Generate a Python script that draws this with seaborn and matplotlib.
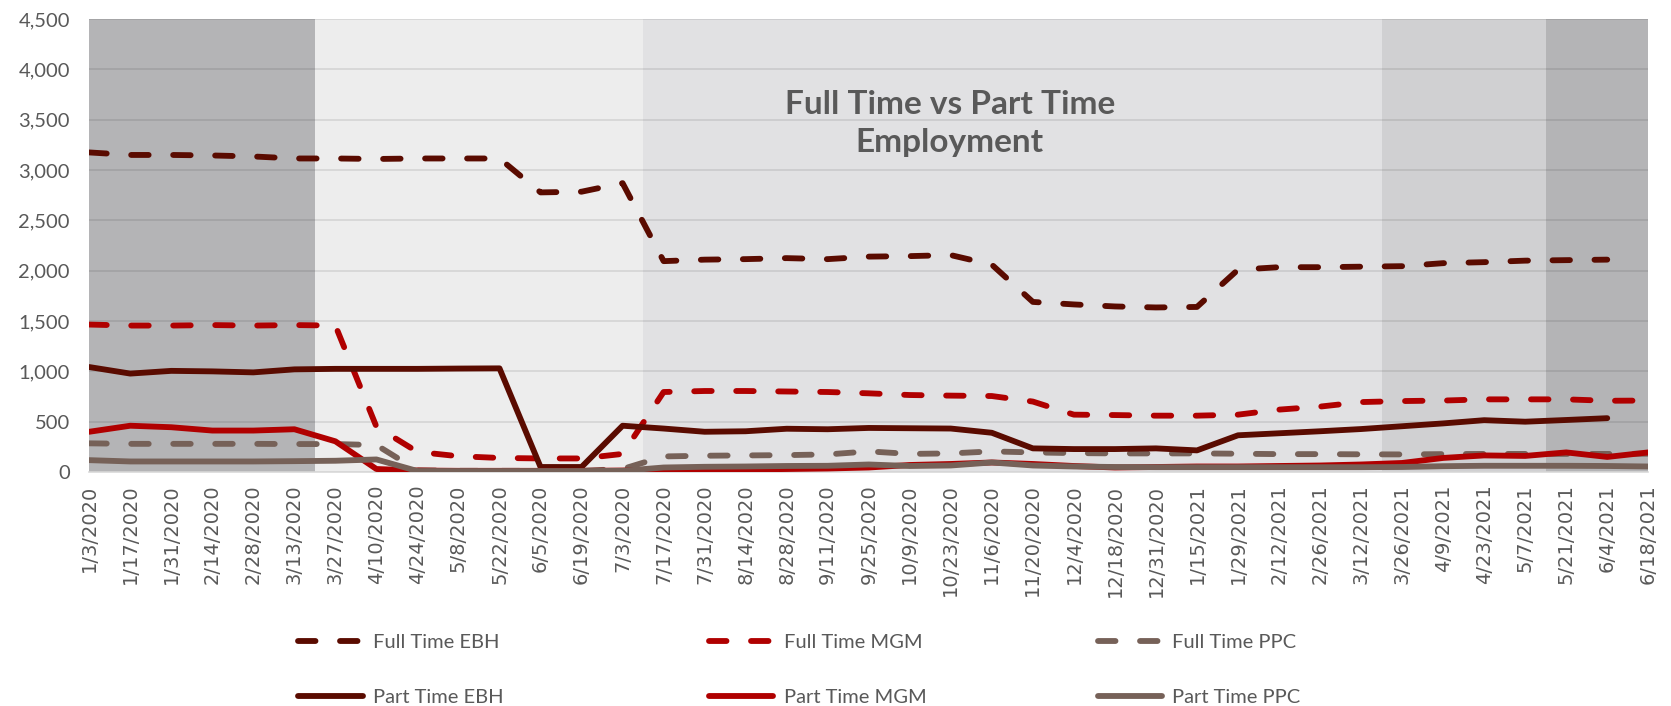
import numpy as np
import pandas as pd
import matplotlib
matplotlib.use("Agg")
import matplotlib.pyplot as plt
import seaborn as sns

nan = np.nan
dates = ["1/3/2020", "1/17/2020", "1/31/2020", "2/14/2020", "2/28/2020", "3/13/2020",
         "3/27/2020", "4/10/2020", "4/24/2020", "5/8/2020", "5/22/2020", "6/5/2020",
         "6/19/2020", "7/3/2020", "7/17/2020", "7/31/2020", "8/14/2020", "8/28/2020",
         "9/11/2020", "9/25/2020", "10/9/2020", "10/23/2020", "11/6/2020", "11/20/2020",
         "12/4/2020", "12/18/2020", "12/31/2020", "1/15/2021", "1/29/2021", "2/12/2021",
         "2/26/2021", "3/12/2021", "3/26/2021", "4/9/2021", "4/23/2021", "5/7/2021",
         "5/21/2021", "6/4/2021", "6/18/2021"]

ft_ebh = [3175, 3150, 3150, 3145, 3135, 3115, 3115, 3110, 3115, 3115, 3115, 2778, 2785,
          2870, 2095, 2110, 2115, 2125, 2115, 2140, 2145, 2155, 2060, 1690, 1665, 1645,
          1635, 1640, 2010, 2035, 2035, 2040, 2045, 2075, 2085, 2100, 2105, 2110, nan]
ft_mgm = [1465, 1455, 1455, 1460, 1455, 1460, 1455, 450, 200, 157, 140, 135, 135, 180,
          795, 805, 805, 800, 795, 782, 765, 759, 755, 700, 570, 566, 560, 560, 570, 620,
          650, 695, 705, 710, 722, 722, 722, 708, 710]
ft_ppc = [285, 280, 280, 280, 280, 278, 278, 268, 17, 12, 12, 12, 12, 30, 155, 162, 165,
          168, 175, 205, 180, 185, 205, 195, 188, 185, 185, 185, 182, 178, 178, 176, 175,
          178, 180, 180, 180, 180, 182]
pt_ebh = [1043, 978, 1005, 1000, 990, 1020, 1025, 1025, 1025, 1028, 1030, 50, 50, 460,
          432, 400, 405, 430, 425, 438, 435, 432, 390, 235, 228, 228, 235, 215, 365, 385,
          405, 427, 455, 483, 515, 500, 517, 535, nan]
pt_mgm = [400, 460, 445, 412, 412, 425, 305, 30, 15, 12, 12, 12, 12, 15, 20, 25, 25, 30,
          35, 45, 70, 80, 95, 80, 60, 45, 50, 55, 55, 60, 65, 75, 90, 140, 165, 160, 195,
          150, 195]
pt_ppc = [118, 105, 105, 105, 105, 108, 112, 125, 10, 10, 10, 10, 10, 12, 45, 52, 55, 60,
          62, 75, 60, 65, 95, 65, 55, 50, 48, 48, 48, 48, 48, 48, 50, 58, 62, 62, 62, 60, 55]

series_names = ["Full Time EBH", "Full Time MGM", "Full Time PPC",
                "Part Time EBH", "Part Time MGM", "Part Time PPC"]
series_values = [ft_ebh, ft_mgm, ft_ppc, pt_ebh, pt_mgm, pt_ppc]

# background period bands (boundaries in category positions)
band_edges = [0, 5.5, 13.5, 31.5, 35.5, 38]
band_colors = ["#b4b4b6", "#ededed", "#e1e1e3", "#d0d0d2", "#b4b4b6"]

colors = {"EBH": "#5a0b00", "MGM": "#b00000", "PPC": "#766158"}
TXT = "#595959"

sns.set_theme(style="white")
plt.rcParams["font.family"] = ["Lato", "DejaVu Sans"]

fig = plt.figure(figsize=(16.71, 7.06), dpi=100)
ax = fig.add_axes([0.0534, 0.3314, 0.9330, 0.6416])

for (a, b), c in zip(zip(band_edges[:-1], band_edges[1:]), band_colors):
    ax.axvspan(a, b, color=c, lw=0, zorder=0)

x = np.arange(len(dates))
lw = 4.2
for name, vals in zip(series_names, series_values):
    site = name.split()[-1]
    dashed = name.startswith("Full")
    df = pd.DataFrame({"x": x, "y": vals}).dropna()
    sns.lineplot(data=df, x="x", y="y", ax=ax, color=colors[site], linewidth=lw,
                 label=name, zorder=3, solid_joinstyle="round")
    line = ax.lines[-1]
    if dashed:
        line.set_dashes((3.0, 4.2))
        line.set_dash_capstyle("round")
        line.set_dash_joinstyle("round")

ax.set_xlim(0, 38)
ax.set_ylim(0, 4500)
ax.set_yticks(np.arange(0, 4501, 500))
ax.set_yticklabels([f"{v:,}" for v in range(0, 4501, 500)], fontsize=14.5, color=TXT)
ax.set_xticks(x)
ax.set_xticklabels(dates, rotation=90, fontsize=14, color=TXT, family="DejaVu Sans")
ax.tick_params(axis="y", length=0, pad=14)
ax.tick_params(axis="x", length=0, pad=9)
ax.set_xlabel("")
ax.set_ylabel("")
ax.set_axisbelow(True)
ax.yaxis.grid(True, color="black", alpha=0.1, lw=1.2)
ax.xaxis.grid(False)
for s in ["top", "right", "left"]:
    ax.spines[s].set_visible(False)
ax.spines["bottom"].set_color("#d9d9d9")
ax.spines["bottom"].set_linewidth(1.2)

ax.text(0.552, 0.770, "Full Time vs Part Time\nEmployment", transform=ax.transAxes,
        ha="center", va="center", fontsize=24, fontweight="bold", color=TXT,
        linespacing=1.38, zorder=5)

handles, labels = ax.get_legend_handles_labels()
ax.get_legend().remove()
lookup = dict(zip(labels, handles))
col_x = [0.1785, 0.4243, 0.657]
for cx, site in zip(col_x, ["EBH", "MGM", "PPC"]):
    labs = [f"Full Time {site}", f"Part Time {site}"]
    leg = fig.legend([lookup[l] for l in labs], labs, loc="center left",
                     bbox_to_anchor=(cx, 0.051), frameon=False, fontsize=14.5,
                     handlelength=3.2, handletextpad=0.5, labelspacing=1.9,
                     borderpad=0, borderaxespad=0)
    for t in leg.get_texts():
        t.set_color(TXT)

fig.savefig("out.png", dpi=100, facecolor="white")
